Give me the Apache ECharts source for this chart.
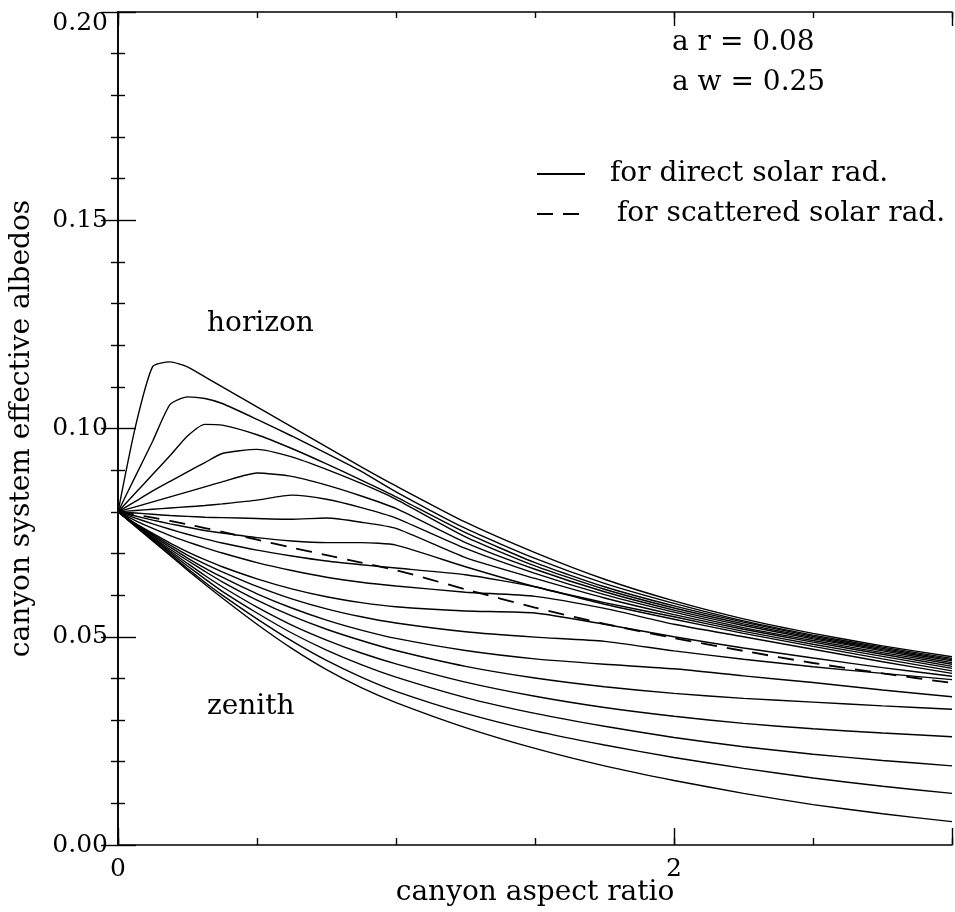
<!DOCTYPE html>
<html>
<head>
<meta charset="utf-8">
<script src="https://cdn.jsdelivr.net/npm/echarts@6/dist/echarts.min.js"></script>
<style>
html,body{margin:0;padding:0;background:#fff;}
#chart{width:955px;height:912px;}
</style>
</head>
<body>
<div id="chart"></div>
<script>
// canyon aspect ratio (x values shared by all curves)
const aspectRatio = [0, 0.0625, 0.125, 0.1875, 0.25, 0.3125, 0.375, 0.5, 0.625, 0.75, 0.875, 1.0, 1.25, 1.5, 1.75, 2.0, 2.25, 2.5, 2.75, 3.0];

// effective albedo curves for direct solar radiation (zenith -> horizon)
const curve01 = [.080,.0765,.0730,.0695,.0660,.0626,.0593,.0530,.0472,.0421,.0378,.0342,.0282,.0232,.0190,.0155,.0124,.0097,.0075,.0056];
const curve02 = [.080,.0766,.0732,.0698,.0664,.0631,.0600,.0543,.0490,.0443,.0403,.0369,.0316,.0274,.0240,.0210,.0184,.0161,.0141,.0124];
const curve03 = [.080,.0767,.0735,.0702,.0670,.0639,.0609,.0557,.0509,.0468,.0433,.0403,.0354,.0316,.0285,.0258,.0236,.0218,.0203,.0190];
const curve04 = [.080,.0768,.0737,.0706,.0676,.0647,.0620,.0571,.0528,.0492,.0461,.0435,.0391,.0357,.0330,.0309,.0292,.0279,.0269,.0260];
const curve05 = [.080,.0769,.0739,.0710,.0683,.0657,.0632,.0588,.0550,.0518,.0491,.0467,.0429,.0401,.0380,.0364,.0352,.0343,.0334,.0326];
const curve06 = [.080,.0770,.0742,.0715,.0689,.0665,.0643,.0603,.0569,.0540,.0516,.0496,.0467,.0447,.0434,.0423,.0406,.0390,.0372,.0356];
const curve07 = [.080,.0771,.0745,.0720,.0696,.0675,.0656,.0621,.0591,.0567,.0548,.0533,.0512,.0499,.0489,.0466,.0446,.0428,.0412,.0397];
const curve08 = [.080,.0772,.0748,.0725,.0704,.0685,.0668,.0639,.0615,.0596,.0582,.0572,.0562,.0557,.0530,.0500,.0473,.0449,.0426,.0405];
const curve09 = [.080,.0779,.0760,.0743,.0728,.0714,.0701,.0678,.0659,.0643,.0631,.0622,.0607,.0597,.0568,.0530,.0500,.0470,.0440,.0412];
const curve10 = [.080,.0785,.0771,.0758,.0746,.0735,.0725,.0708,.0694,.0682,.0673,.0665,.0649,.0620,.0578,.0542,.0508,.0477,.0447,.0418];
const curve11 = [.080,.0790,.0780,.0771,.0763,.0755,.0749,.0738,.0730,.0726,.0726,.0720,.0668,.0620,.0582,.0548,.0513,.0482,.0453,.0424];
const curve12 = [.080,.0797,.0794,.0791,.0789,.0787,.0786,.0784,.0782,.0785,.0775,.0760,.0690,.0640,.0593,.0553,.0518,.0487,.0458,.0429];
const curve13 = [.080,.0803,.0806,.0809,.0812,.0815,.0819,.0828,.0840,.0830,.0810,.0785,.0712,.0652,.0601,.0559,.0522,.0491,.0462,.0434];
const curve14 = [.080,.0812,.0824,.0836,.0848,.0860,.0872,.0893,.0885,.0864,.0838,.0808,.0726,.0662,.0608,.0564,.0527,.0495,.0466,.0438];
const curve15 = [.080,.0825,.0850,.0873,.0896,.0918,.0940,.0950,.0932,.0902,.0868,.0830,.0740,.0670,.0614,.0569,.0531,.0498,.0469,.0442];
const curve16 = [.080,.0845,.0890,.0935,.0982,.1010,.1008,.0985,.0952,.0915,.0876,.0836,.0750,.0678,.0620,.0574,.0535,.0501,.0472,.0445];
const curve17 = [.080,.0885,.0970,.1058,.1076,.1072,.1060,.1022,.0982,.0940,.0897,.0848,.0760,.0688,.0628,.0580,.0538,.0504,.0475,.0448];
const curve18 = [.080,.1004,.1149,.1160,.1148,.1124,.1100,.1052,.1004,.0956,.0908,.0862,.0775,.0702,.0638,.0586,.0543,.0508,.0478,.0452];

// effective albedo for scattered solar radiation
const scattered = [.080,.0793,.0786,.0778,.0770,.0761,.0752,.0733,.0714,.0696,.0678,.0660,.0614,.0570,.0531,.0497,.0466,.0437,.0412,.0389];

// tick labels
const xTickLabels = {0: '0', 2: '2'};
const yTickLabels = ['0.00', '0.05', '0.10', '0.15', '0.20'];

const directCurves = [curve01, curve02, curve03, curve04, curve05, curve06, curve07, curve08, curve09,
  curve10, curve11, curve12, curve13, curve14, curve15, curve16, curve17, curve18];

const FONT = 'DejaVu Serif';
const TICK_SIZE = 25;
const TEXT_SIZE = 28;
const pair = arr => aspectRatio.map((x, i) => [x, arr[i]]);

const series = directCurves.map(c => ({
  name: 'for direct solar rad.',
  type: 'line',
  data: pair(c),
  symbol: 'none',
  smooth: 0.2,
  lineStyle: {color: '#000', width: 1.4},
  itemStyle: {color: '#000'},
  silent: true
}));
series.push({
  name: 'for scattered solar rad.',
  type: 'line',
  data: pair(scattered),
  symbol: 'none',
  smooth: 0.2,
  lineStyle: {color: '#000', width: 1.8, type: [16, 10]},
  itemStyle: {color: '#000'},
  silent: true
});

const axisLineStyle = {show: true, lineStyle: {color: '#000', width: 1.6}};
const common = {type: 'value', min: 0, max: 3, splitLine: {show: false}};
const legendBase = {
  show: true, orient: 'horizontal', itemWidth: 48, itemHeight: 20,
  itemStyle: {opacity: 0}, selectedMode: false
};

const chart = echarts.init(document.getElementById('chart'), null, {renderer: 'canvas'});
chart.setOption({
  backgroundColor: '#fff',
  animation: false,
  grid: {left: 118, top: 12, right: 3, bottom: 67, containLabel: false},
  xAxis: [
    Object.assign({}, common, {
      position: 'bottom', interval: 0.5,
      axisLine: axisLineStyle,
      axisTick: {show: true, inside: true, length: 7, lineStyle: {color: '#000', width: 1.4}},
      axisLabel: {show: false},
      name: 'canyon aspect ratio', nameLocation: 'middle', nameGap: 34,
      nameTextStyle: {fontFamily: FONT, fontSize: TEXT_SIZE, color: '#000'}
    }),
    Object.assign({}, common, {
      position: 'bottom', interval: 2,
      axisLine: {show: false},
      axisTick: {show: true, inside: true, length: 17, lineStyle: {color: '#000', width: 1.4}},
      axisLabel: {show: true, margin: 12, fontFamily: FONT, fontSize: TICK_SIZE, color: '#000',
        formatter: v => (xTickLabels[v] !== undefined ? xTickLabels[v] : '')}
    }),
    Object.assign({}, common, {
      position: 'top', interval: 0.5,
      axisLine: axisLineStyle,
      axisTick: {show: true, inside: true, length: 6, lineStyle: {color: '#000', width: 1.4}},
      axisLabel: {show: false}
    }),
    Object.assign({}, common, {
      position: 'top', interval: 2,
      axisLine: {show: false},
      axisTick: {show: true, inside: true, length: 14, lineStyle: {color: '#000', width: 1.4}},
      axisLabel: {show: false}
    })
  ],
  yAxis: [
    {
      type: 'value', min: 0, max: 0.2, interval: 0.05, position: 'left',
      splitLine: {show: false},
      axisLine: axisLineStyle,
      axisTick: {show: true, inside: true, length: 18, lineStyle: {color: '#000', width: 1.4}},
      minorTick: {show: true, splitNumber: 5, length: 7, lineStyle: {color: '#000', width: 1.4}},
      minorSplitLine: {show: false},
      axisLabel: {
        show: true, margin: 10, fontFamily: FONT, fontSize: TICK_SIZE, color: '#000',
        formatter: v => {
          const i = Math.round(v / 0.05);
          return i === 4 ? '{t|' + yTickLabels[i] + '}' : yTickLabels[i];
        },
        rich: {t: {fontFamily: FONT, fontSize: TICK_SIZE, color: '#000', padding: [22, 0, 0, 0]}}
      },
      name: 'canyon system effective albedos', nameLocation: 'middle', nameGap: 82,
      nameTextStyle: {fontFamily: FONT, fontSize: TEXT_SIZE, color: '#000'}
    },
    {
      type: 'value', min: 0, max: 0.2, interval: 0.05, position: 'right',
      splitLine: {show: false},
      axisLine: axisLineStyle,
      axisTick: {show: true, inside: true, length: 17, lineStyle: {color: '#000', width: 1.4}},
      minorTick: {show: true, splitNumber: 5, length: 7, lineStyle: {color: '#000', width: 1.4}},
      axisLabel: {show: false}
    }
  ],
  legend: [
    Object.assign({}, legendBase, {
      left: 531, top: 155, data: ['for direct solar rad.'],
      textStyle: {fontFamily: FONT, fontSize: TEXT_SIZE, color: '#000', padding: [0, 0, 0, 20]}
    }),
    Object.assign({}, legendBase, {
      left: 531, top: 195, data: ['for scattered solar rad.'],
      textStyle: {fontFamily: FONT, fontSize: TEXT_SIZE, color: '#000', padding: [0, 0, 0, 27]}
    })
  ],
  graphic: [
    {type: 'text', left: 672, top: 29, style: {text: 'a r = 0.08', fontFamily: FONT, fontSize: TEXT_SIZE, fill: '#000'}},
    {type: 'text', left: 672, top: 69, style: {text: 'a w = 0.25', fontFamily: FONT, fontSize: TEXT_SIZE, fill: '#000'}},
    {type: 'text', left: 207, top: 310, style: {text: 'horizon', fontFamily: FONT, fontSize: TEXT_SIZE, fill: '#000'}},
    {type: 'text', left: 207, top: 693, style: {text: 'zenith', fontFamily: FONT, fontSize: TEXT_SIZE, fill: '#000'}}
  ],
  series: series
});
</script>
</body>
</html>
